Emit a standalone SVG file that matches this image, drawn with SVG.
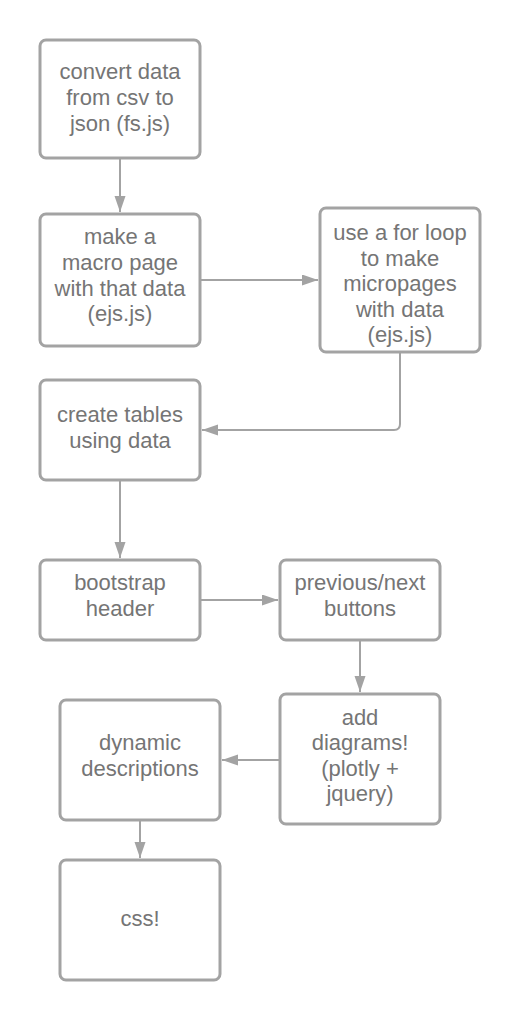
<svg xmlns="http://www.w3.org/2000/svg" width="520" height="1020" viewBox="0 0 520 1020">
<style>
.box{fill:#ffffff;stroke:#a3a3a3;stroke-width:3}
.lbl{font-family:"Liberation Sans",Arial,sans-serif;font-size:22px;fill:#757575;text-anchor:middle}
.con{fill:none;stroke:#a3a3a3;stroke-width:2}
</style>
<defs>
<marker id="ah" markerUnits="userSpaceOnUse" markerWidth="17" markerHeight="12" refX="16" refY="5.5" orient="auto">
<path d="M0,0 L16,5.5 L0,11 z" fill="#a3a3a3"/>
</marker>
</defs>
<rect width="520" height="1020" fill="#ffffff"/>
<g id="connectors">
<path class="con" d="M120,158 L120,212" marker-end="url(#ah)"/>
<path class="con" d="M200,280 L318,280" marker-end="url(#ah)"/>
<path class="con" d="M400,352 L400,424 Q400,430 394,430 L202,430" marker-end="url(#ah)"/>
<path class="con" d="M120,480 L120,558" marker-end="url(#ah)"/>
<path class="con" d="M200,600 L278,600" marker-end="url(#ah)"/>
<path class="con" d="M360,640 L360,692" marker-end="url(#ah)"/>
<path class="con" d="M280,760 L222,760" marker-end="url(#ah)"/>
<path class="con" d="M140,820 L140,858" marker-end="url(#ah)"/>
</g>
<g id="n1">
<rect class="box" x="40" y="40" width="160" height="118" rx="6"/>
<text class="lbl"><tspan x="120" y="79">convert data</tspan><tspan x="120" y="105">from csv to</tspan><tspan x="120" y="130.5">json (fs.js)</tspan></text>
</g>
<g id="n2">
<rect class="box" x="40" y="214" width="160" height="132" rx="6"/>
<text class="lbl"><tspan x="120" y="244">make a</tspan><tspan x="120" y="270">macro page</tspan><tspan x="120" y="295.5">with that data</tspan><tspan x="120" y="321">(ejs.js)</tspan></text>
</g>
<g id="n3">
<rect class="box" x="320" y="208" width="160" height="144" rx="6"/>
<text class="lbl"><tspan x="400" y="240">use a for loop</tspan><tspan x="400" y="265.5">to make</tspan><tspan x="400" y="291">micropages</tspan><tspan x="400" y="316.5">with data</tspan><tspan x="400" y="342">(ejs.js)</tspan></text>
</g>
<g id="n4">
<rect class="box" x="40" y="380" width="160" height="100" rx="6"/>
<text class="lbl"><tspan x="120" y="422">create tables</tspan><tspan x="120" y="447.5">using data</tspan></text>
</g>
<g id="n5">
<rect class="box" x="40" y="560" width="160" height="80" rx="6"/>
<text class="lbl"><tspan x="120" y="590">bootstrap</tspan><tspan x="120" y="615.5">header</tspan></text>
</g>
<g id="n6">
<rect class="box" x="280" y="560" width="160" height="80" rx="6"/>
<text class="lbl"><tspan x="360" y="590">previous/next</tspan><tspan x="360" y="615.5">buttons</tspan></text>
</g>
<g id="n7">
<rect class="box" x="280" y="694" width="160" height="130" rx="6"/>
<text class="lbl"><tspan x="360" y="724.5">add</tspan><tspan x="360" y="750">diagrams!</tspan><tspan x="360" y="775.5">(plotly +</tspan><tspan x="360" y="801">jquery)</tspan></text>
</g>
<g id="n8">
<rect class="box" x="60" y="700" width="160" height="120" rx="6"/>
<text class="lbl"><tspan x="140" y="750">dynamic</tspan><tspan x="140" y="776">descriptions</tspan></text>
</g>
<g id="n9">
<rect class="box" x="60" y="860" width="160" height="120" rx="6"/>
<text class="lbl"><tspan x="140" y="926">css!</tspan></text>
</g>
</svg>
